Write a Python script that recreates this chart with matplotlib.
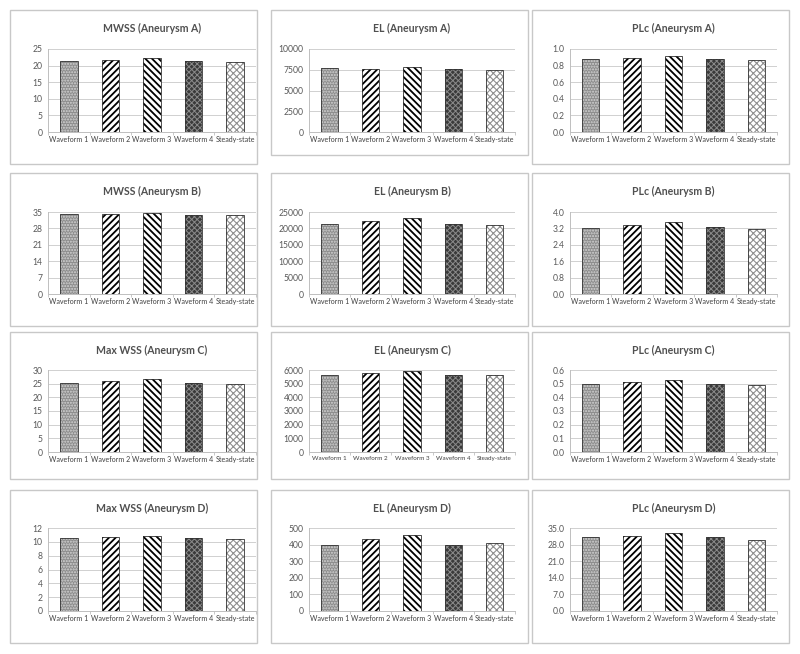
import numpy as np
import matplotlib.pyplot as plt
from matplotlib.patches import Rectangle

plt.rcParams['font.family'] = ['Lato', 'DejaVu Sans']

W, H = 800, 654

CATEGORIES = ["Waveform 1", "Waveform 2", "Waveform 3", "Waveform 4", "Steady-state"]

TITLES = [
    "MWSS (Aneurysm A)", "EL (Aneurysm A)", "PLc (Aneurysm A)",
    "MWSS (Aneurysm B)", "EL (Aneurysm B)", "PLc (Aneurysm B)",
    "Max WSS (Aneurysm C)", "EL (Aneurysm C)", "PLc (Aneurysm C)",
    "Max WSS (Aneurysm D)", "EL (Aneurysm D)", "PLc (Aneurysm D)",
]

MWSS_A = [21.3, 21.8, 22.3, 21.3, 21.1]
EL_A = [7690, 7610, 7810, 7570, 7490]
PLC_A = [0.883, 0.895, 0.919, 0.883, 0.866]
MWSS_B = [34.3, 34.3, 34.6, 33.9, 33.9]
EL_B = [21450, 22170, 23180, 21450, 21150]
PLC_B = [3.23, 3.35, 3.50, 3.27, 3.19]
MWSS_C = [25.4, 25.9, 26.6, 25.4, 25.0]
EL_C = [5640, 5760, 5950, 5640, 5640]
PLC_C = [0.495, 0.512, 0.529, 0.495, 0.492]
MWSS_D = [10.59, 10.69, 10.88, 10.59, 10.44]
EL_D = [399, 435, 458, 399, 409]
PLC_D = [31.0, 31.8, 32.9, 31.3, 29.9]

SERIES = [MWSS_A, EL_A, PLC_A, MWSS_B, EL_B, PLC_B,
          MWSS_C, EL_C, PLC_C, MWSS_D, EL_D, PLC_D]

YTICKS = [
    [0, 5, 10, 15, 20, 25], [0, 2500, 5000, 7500, 10000], [0, 0.2, 0.4, 0.6, 0.8, 1.0],
    [0, 7, 14, 21, 28, 35], [0, 5000, 10000, 15000, 20000, 25000], [0, 0.8, 1.6, 2.4, 3.2, 4.0],
    [0, 5, 10, 15, 20, 25, 30], [0, 1000, 2000, 3000, 4000, 5000, 6000], [0, 0.1, 0.2, 0.3, 0.4, 0.5, 0.6],
    [0, 2, 4, 6, 8, 10, 12], [0, 100, 200, 300, 400, 500], [0, 7, 14, 21, 28, 35],
]
YFMT = ["{:.0f}", "{:.0f}", "{:.1f}",
        "{:.0f}", "{:.0f}", "{:.1f}",
        "{:.0f}", "{:.0f}", "{:.1f}",
        "{:.0f}", "{:.0f}", "{:.1f}"]

# bar styles: face, hatch, hatch colour, hatch linewidth
STYLES = [
    ("#8c8c8c", "......", "#d4d4d4", 1.0),
    ("white", "/////", "black", 1.3),
    ("white", "\\\\\\\\\\", "black", 1.3),
    ("#3a3a3a", "xxxxxx", "#8a8a8a", 0.7),
    ("white", "xxxxx", "#8f8f8f", 0.8),
]

# layout in pixels
BOX_X = [(10, 257), (271, 528), (532, 789)]
BOX_Y = [(10, 164), (173, 326), (332, 479), (490, 643)]
AX_X = [(48, 256), (309, 515), (570, 777)]
AX_Y = [(49, 132), (212, 294), (370, 452), (528, 611)]


def fig_rect(x0, y0, x1, y1):
    return [x0 / W, 1 - y1 / H, (x1 - x0) / W, (y1 - y0) / H]


fig = plt.figure(figsize=(8, 6.54), dpi=100)
fig.patch.set_facecolor("white")

for i in range(12):
    r, c = divmod(i, 3)
    bx0, bx1 = BOX_X[c]
    by0, by1 = BOX_Y[r]
    if r == 0 and c == 1:
        by1 = 155
    fig.patches.append(Rectangle((bx0 / W, 1 - by1 / H), (bx1 - bx0) / W, (by1 - by0) / H,
                                 transform=fig.transFigure, fill=False,
                                 edgecolor="#c8c8c8", lw=1.0))

    ax = fig.add_axes(fig_rect(AX_X[c][0], AX_Y[r][0], AX_X[c][1], AX_Y[r][1]))
    x = np.arange(len(CATEGORIES))
    vals = SERIES[i]
    for j, v in enumerate(vals):
        face, hatch, hcol, hlw = STYLES[j]
        with plt.rc_context({"hatch.linewidth": hlw}):
            ax.bar(x[j], v, width=0.42, color=face, hatch=hatch,
                   edgecolor=hcol, linewidth=0, zorder=2)
        ax.bar(x[j], v, width=0.42, fill=False, edgecolor="#333333",
               linewidth=0.6, zorder=3)

    ticks = YTICKS[i]
    ax.set_ylim(0, ticks[-1])
    ax.set_xlim(-0.5, 4.5)
    ax.set_yticks(ticks)
    ax.set_yticklabels([YFMT[i].format(t) for t in ticks])
    ax.grid(axis="y", color="#d0d0d0", lw=0.7, zorder=0)
    ax.set_axisbelow(True)
    for s in ("top", "right"):
        ax.spines[s].set_visible(False)
    ax.spines["left"].set_color("#bfbfbf")
    ax.spines["bottom"].set_color("#bfbfbf")
    ax.spines["left"].set_linewidth(0.7)
    ax.spines["bottom"].set_linewidth(0.7)
    ax.tick_params(axis="y", length=0, labelsize=6.2, labelcolor="#595959", pad=4)
    ax.set_xticks(x)
    xl_size = 4.5 if i == 7 else 5.1
    ax.set_xticklabels(CATEGORIES, fontsize=xl_size, color="#404040")
    ax.tick_params(axis="x", length=0, pad=3)
    ax.set_xticks(np.arange(-0.5, 5, 1), minor=True)
    ax.tick_params(axis="x", which="minor", length=2, color="#bfbfbf", width=0.6)

    ty = (by0 + AX_Y[r][0]) / 2 - 1
    tx = (AX_X[c][0] + AX_X[c][1]) / 2
    fig.text(tx / W, 1 - ty / H, TITLES[i], ha="center", va="center",
             fontsize=7.6, color="#505050", fontweight="bold")

fig.savefig("out.png", dpi=100, facecolor="white")
